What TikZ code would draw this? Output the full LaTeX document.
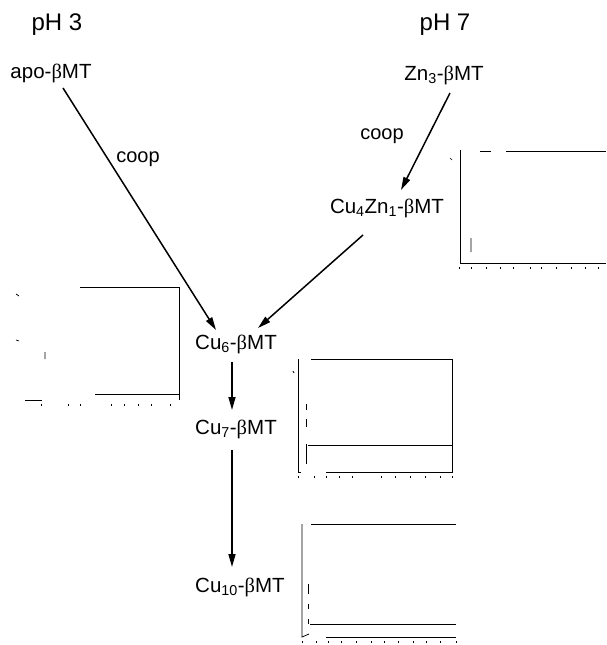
\documentclass[tikz,border=0pt]{standalone}
\usepackage{fontspec}
\setmainfont{Liberation Sans}
\newfontfamily\greekfont{Liberation Serif}
\usetikzlibrary{arrows.meta, calc}
\newcommand{\bmt}{-{\greekfont β}MT}
\newcommand{\lo}[1]{\textsubscript{#1}}
\tikzset{
  every picture/.style={line width=1.4pt},
  species/.style={font=\fontsize{20.5}{22}\selectfont, inner sep=1pt, anchor=base},
  phlabel/.style={font=\fontsize{24}{26}\selectfont, inner sep=1pt, anchor=base},
  coop/.style={font=\fontsize{20}{22}\selectfont, inner sep=1pt, anchor=base},
  react/.style={-{Triangle[length=13pt, width=7pt]}, line width=1.5pt},
  frame/.style={line width=0.8pt},
  trace/.style={line width=0.7pt},
}

\begin{document}
\begin{tikzpicture}[x=1pt, y=-1pt]
  \useasboundingbox (0,0) rectangle (606,645);
  % conditions
  \node[phlabel] (ph3) at (57,30) {pH 3};
  \node[phlabel] (ph7) at (445,30) {pH 7};
  % species
  \node[species] (apo) at (51,78) {apo\bmt};
  \node[species] (zn3) at (444,80) {Zn\lo{3}\bmt};
  \node[species] (cu4) at (387,213) {Cu\lo{4}Zn\lo{1}\bmt};
  \node[species] (cu6) at (236,349) {Cu\lo{6}\bmt};
  \node[species] (cu7) at (236,434) {Cu\lo{7}\bmt};
  \node[species] (cu10) at (240,592) {Cu\lo{10}\bmt};
  % reactions
  \draw[react] ($(apo.base)+(12,10)$) -- ($(cu6.base)+(-20,-19)$);
  \draw[react] ($(zn3.base)+(6,13)$) -- ($(cu4.base)+(14,-23)$);
  \draw[react] ($(cu4.base)+(-24,22)$) -- ($(cu6.base)+(22,-21)$);
  \draw[react] ($(cu6.base)+(-4,13)$) -- ($(cu7.base)+(-4,-24)$);
  \draw[react] ($(cu7.base)+(-4,16)$) -- ($(cu10.base)+(-8,-25)$);
  \node[coop] (coopl) at (138,162) {coop};
  \node[coop] (coopr) at (382,139) {coop};
  % spectrum insets
  % left
  \draw[frame] (80,287) -- (179,287) -- (179,400);
  \draw[frame] (95,394) -- (179,394);
  \draw[frame] (25,400) -- (42,400);
  \draw[trace] (16,294) -- (19,296) (16,340) -- (19,341) (45,352) -- (45,359);
  \foreach \x in {41,68,80,111,124,138,151,170} \draw[trace] (\x,404) -- (\x,406);
  % top right
  \draw[frame] (460,150) -- (460,263) -- (606,263);
  \draw[frame] (480,151) -- (491,151) (506,151) -- (606,151);
  \draw[trace] (471,238) -- (471,252) (450,158) -- (452,160);
  \foreach \x in {459,471,486,500,513,530,541,556,571,585,598} \draw[trace] (\x,267) -- (\x,269);
  % middle right
  \draw[frame] (298,359) -- (298,472) -- (301,472);
  \draw[frame] (311,359) -- (452,359) -- (452,472) -- (326,472);
  \draw[trace] (308,445) -- (452,445);
  \draw[trace] (306,404) -- (306,410) (306,419) -- (306,427) (306,444) -- (306,464);
  \draw[trace] (293,371) -- (294,373);
  \foreach \x in {298,314,326,339,352,381,395,410,425,440,452} \draw[trace] (\x,476) -- (\x,478);
  % bottom right
  \draw[frame] (302,524) -- (302,637) -- (309,634);
  \draw[frame] (311,524) -- (456,524);
  \draw[trace] (310,624) -- (456,624);
  \draw[frame] (326,637) -- (456,637);
  \draw[trace] (308,584) -- (308,594) (308,604) -- (308,609) (308,619) -- (308,624);
  \foreach \x in {302,316,328,341,356,371,384,398,413,426,440,456} \draw[trace] (\x,641) -- (\x,643);
\end{tikzpicture}
\end{document}
